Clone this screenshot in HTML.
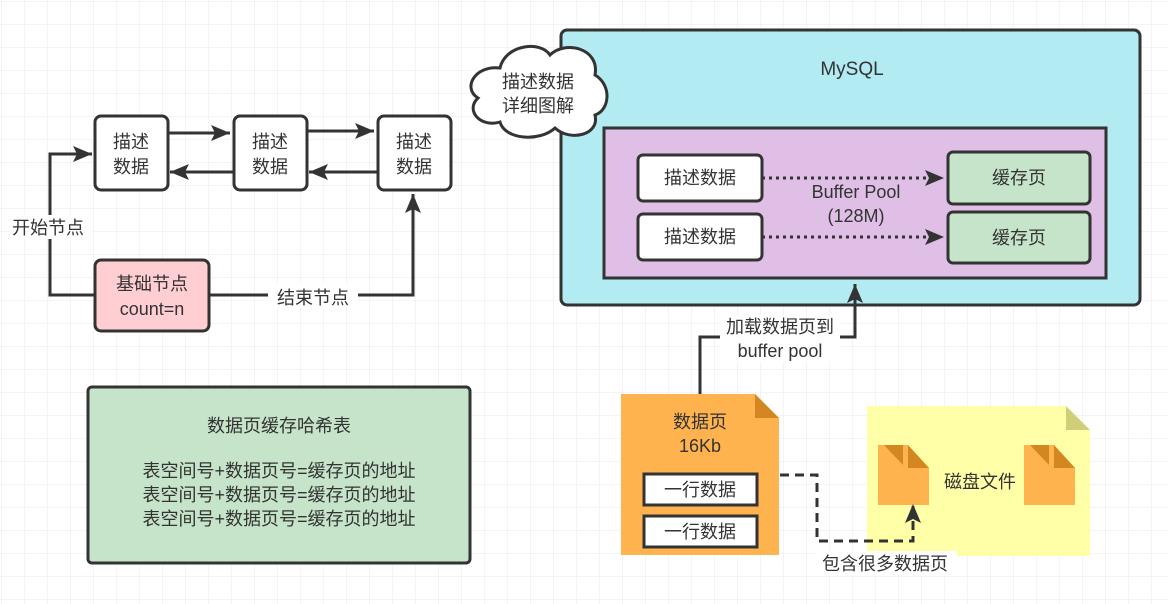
<!DOCTYPE html>
<html><head><meta charset="utf-8"><style>
html,body{margin:0;padding:0;background:#fff}
svg{display:block}
text{font-family:"Liberation Sans","Noto Sans CJK SC",sans-serif;fill:#333;font-size:18px}
</style></head><body>
<svg width="1168" height="604" viewBox="0 0 1168 604" xmlns="http://www.w3.org/2000/svg">
<defs>
<pattern id="g" width="23" height="23" patternUnits="userSpaceOnUse" x="2" y="2">
<path d="M23 0V23M0 23H23" stroke="#e8e8e8" stroke-width="1" fill="none"/>
</pattern>
<marker id="b" markerWidth="20" markerHeight="16" refX="19" refY="8" orient="auto" markerUnits="userSpaceOnUse">
<path d="M0,0 L19,8 L0,16 L4,8z" fill="#333"/></marker>
</defs>
<rect width="1168" height="604" fill="url(#g)"/>
<g stroke="#333" stroke-width="3" fill="none">
<path d="M168,133H230" marker-end="url(#b)"/>
<path d="M234,172H170" marker-end="url(#b)"/>
<path d="M307,131H374" marker-end="url(#b)"/>
<path d="M378,172H309" marker-end="url(#b)"/>
<path d="M95,295H50V154H92" marker-end="url(#b)"/>
<path d="M209,295H413V194" marker-end="url(#b)"/>
</g>
<g stroke="#333" stroke-width="3">
<rect x="95" y="116" width="73" height="74" rx="6" fill="#fff"/>
<rect x="234" y="116" width="73" height="74" rx="6" fill="#fff"/>
<rect x="378" y="116" width="73" height="74" rx="6" fill="#fff"/>
<rect x="95" y="260" width="114" height="71" rx="6" fill="#ffced3"/>
<rect x="88" y="387" width="382" height="176" rx="4" fill="#c6e4c9"/>
</g>
<g text-anchor="middle">
<text x="131" y="148">描述</text><text x="131" y="173">数据</text>
<text x="270" y="148">描述</text><text x="270" y="173">数据</text>
<text x="414" y="148">描述</text><text x="414" y="173">数据</text>
<text x="152" y="290">基础节点</text><text x="152" y="315">count=n</text>
<rect x="268" y="284" width="90" height="24" fill="#fff"/>
<text x="313" y="304">结束节点</text>
<text x="279" y="432">数据页缓存哈希表</text>
<text x="279" y="477">表空间号+数据页号=缓存页的地址</text>
<text x="279" y="501">表空间号+数据页号=缓存页的地址</text>
<text x="279" y="525">表空间号+数据页号=缓存页的地址</text>
</g>
<rect x="10" y="215" width="82" height="24" fill="#fff"/>
<text x="12" y="234">开始节点</text>
<rect x="561" y="30" width="579" height="275" rx="6" fill="#b2ebf2" stroke="#333" stroke-width="3"/>
<text x="852" y="75" text-anchor="middle" style="font-size:19px">MySQL</text>
<rect x="604" y="128" width="502" height="150" fill="#dfbfe6" stroke="#333" stroke-width="3"/>
<text x="856" y="198" text-anchor="middle">Buffer Pool</text>
<text x="856" y="222" text-anchor="middle">(128M)</text>
<g stroke="#333" stroke-width="3" stroke-dasharray="3 4" fill="none">
<path d="M762,178H944" marker-end="url(#b)"/>
<path d="M762,237H944" marker-end="url(#b)"/>
</g>
<g stroke="#333" stroke-width="3">
<rect x="638" y="155" width="124" height="46" rx="5" fill="#fff"/>
<rect x="638" y="214" width="124" height="46" rx="5" fill="#fff"/>
<rect x="948" y="152" width="142" height="52" rx="5" fill="#c6e4c9"/>
<rect x="948" y="212" width="142" height="51" rx="5" fill="#c6e4c9"/>
</g>
<g text-anchor="middle">
<text x="700" y="184">描述数据</text><text x="700" y="243">描述数据</text>
<text x="1019" y="184">缓存页</text><text x="1019" y="244">缓存页</text>
</g>
<path d="M500,68 C505,45 540,40 550,55 C565,40 600,48 595,75 C612,85 610,110 595,115 C600,135 570,142 555,128 C540,142 505,140 500,122 C480,128 465,110 478,98 C462,88 475,65 500,68Z" fill="#fff" stroke="#333" stroke-width="3"/>
<text x="538" y="88" text-anchor="middle">描述数据</text>
<text x="538" y="112" text-anchor="middle">详细图解</text>
<path d="M700,394V337H855V284" stroke="#333" stroke-width="3" fill="none" marker-end="url(#b)"/>
<rect x="720" y="316" width="120" height="46" fill="#fff"/>
<text x="780" y="333" text-anchor="middle">加载数据页到</text>
<text x="780" y="357" text-anchor="middle">buffer pool</text>
<path d="M621,394H755L779,418V555H621Z" fill="#ffb34f"/>
<path d="M755,394L779,418H755Z" fill="#d48620"/>
<text x="700" y="428" text-anchor="middle">数据页</text>
<text x="700" y="452" text-anchor="middle">16Kb</text>
<rect x="644" y="474" width="113" height="31" fill="#fff" stroke="#333" stroke-width="3"/>
<rect x="644" y="516" width="113" height="31" fill="#fff" stroke="#333" stroke-width="3"/>
<text x="700" y="496" text-anchor="middle">一行数据</text>
<text x="700" y="538" text-anchor="middle">一行数据</text>
<path d="M867,406H1066L1090,430V556H867Z" fill="#ffffa8"/>
<path d="M1066,406L1090,430H1066Z" fill="#cfcf7a"/>
<g>
<path d="M878,445H884L929,488V505H878Z" fill="#ffb34f"/>
<path d="M884,445L903,465V445Z" fill="#d48620"/>
<path d="M903,445H908L929,468V488L903,465Z" fill="#ffb34f"/>
<path d="M908,445L929,468H908Z" fill="#d48620"/>
<path d="M1024,445H1030L1075,488V505H1024Z" fill="#ffb34f"/>
<path d="M1030,445L1049,465V445Z" fill="#d48620"/>
<path d="M1049,445H1054L1075,468V488L1049,465Z" fill="#ffb34f"/>
<path d="M1054,445L1075,468H1054Z" fill="#d48620"/>
</g>
<text x="980" y="488" text-anchor="middle">磁盘文件</text>
<path d="M780,475H817V541H913V504" stroke="#333" stroke-width="3" stroke-dasharray="9 6" fill="none" marker-end="url(#b)"/>
<rect x="815" y="551" width="142" height="24" fill="#fff"/>
<text x="885" y="570" text-anchor="middle">包含很多数据页</text>
</svg>
</body></html>
